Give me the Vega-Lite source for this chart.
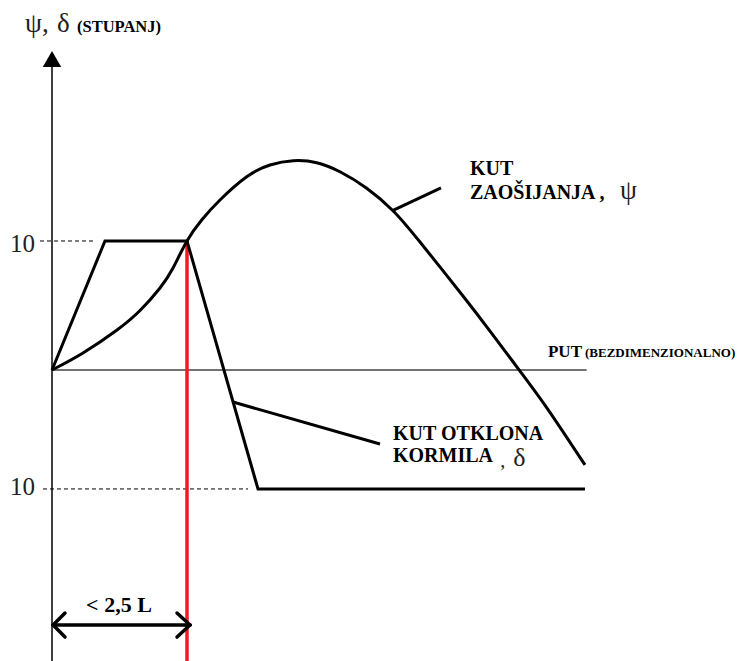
{
  "$schema": "https://vega.github.io/schema/vega-lite/v6.json",
  "width": 740,
  "height": 661,
  "padding": 0,
  "autosize": {"type": "none"},
  "background": "white",
  "config": {"view": {"stroke": null}, "axis": {"disable": true}},
  "datasets": {
    "yaxis": [{"x": 0, "y": -22.6, "x2": 0, "y2": 23.5}],
    "xaxis": [{"x": 0, "y": 0, "x2": 9.9, "y2": 0}],
    "dashed": [
      {"x": -0.222, "y": 10, "x2": 0.796, "y2": 10},
      {"x": -0.167, "y": -9.22, "x2": 3.63, "y2": -9.22}
    ],
    "red": [{"x": 2.5, "y": 10, "x2": 2.5, "y2": -22.6}],
    "delta": [
      {"x": 0, "y": 0},
      {"x": 0.981, "y": 10},
      {"x": 2.5, "y": 10},
      {"x": 3.815, "y": -9.22},
      {"x": 9.87, "y": -9.22}
    ],
    "psi": [
      {"x": 0, "y": 0},
      {"x": 0.574, "y": 1.32},
      {"x": 1.204, "y": 3.1},
      {"x": 1.63, "y": 4.61},
      {"x": 2.0, "y": 6.36},
      {"x": 2.241, "y": 7.91},
      {"x": 2.5, "y": 10},
      {"x": 2.772, "y": 11.63},
      {"x": 3.111, "y": 13.18},
      {"x": 3.606, "y": 14.98},
      {"x": 4.037, "y": 15.89},
      {"x": 4.469, "y": 16.22},
      {"x": 4.902, "y": 16.07},
      {"x": 5.333, "y": 15.37},
      {"x": 5.828, "y": 14.09},
      {"x": 6.32, "y": 12.33},
      {"x": 6.815, "y": 9.92},
      {"x": 7.611, "y": 5.74},
      {"x": 8.111, "y": 3.02},
      {"x": 8.611, "y": 0.23},
      {"x": 9.167, "y": -2.95},
      {"x": 9.87, "y": -7.36}
    ],
    "leaders": [
      {"x": 6.296, "y": 12.33, "x2": 7.204, "y2": 14.11},
      {"x": 3.352, "y": -2.48, "x2": 6.074, "y2": -5.74}
    ],
    "arrow": [
      {"x": 0.02, "y": -19.77, "x2": 2.556, "y2": -19.77},
      {"x": 0.02, "y": -19.77, "x2": 0.241, "y2": -18.84},
      {"x": 0.02, "y": -19.77, "x2": 0.241, "y2": -20.7},
      {"x": 2.556, "y": -19.77, "x2": 2.315, "y2": -18.84},
      {"x": 2.556, "y": -19.77, "x2": 2.315, "y2": -20.7}
    ],
    "tip": [{"x": 0, "y": 24.1}],
    "ticklabels": [
      {"x": -0.315, "y": 9.15, "t": "10"},
      {"x": -0.315, "y": -9.69, "t": "10"}
    ],
    "greek": [
      {"x": -0.5, "y": 26.2, "t": "ψ,"},
      {"x": 0.093, "y": 26.2, "t": "δ"},
      {"x": 10.52, "y": 13.26, "t": "ψ"}
    ],
    "greeksmall": [
      {"x": 8.54, "y": -7.45, "t": "δ"}
    ],
    "boldlabels": [
      {"x": 7.74, "y": 15.12, "t": "KUT"},
      {"x": 7.74, "y": 13.26, "t": "ZAOŠIJANJA ,"},
      {"x": 6.315, "y": -5.43, "t": "KUT OTKLONA"},
      {"x": 6.315, "y": -7.13, "t": "KORMILA"}
    ],
    "smallcomma": [{"x": 8.3, "y": -7.5, "t": ","}],
    "put": [{"x": 9.185, "y": 1.01, "t": "PUT"}],
    "smallbold": [
      {"x": 9.87, "y": 1.01, "t": "(BEZDIMENZIONALNO)"}
    ],
    "unit": [
      {"x": 0.463, "y": 26.2, "t": "(STUPANJ)"}
    ],
    "dist": [{"x": 1.24, "y": -18.76, "t": "< 2,5 L"}]
  },
  "encoding": {
    "x": {"field": "x", "type": "quantitative", "scale": {"domain": [-0.963, 12.741], "nice": false, "zero": false}, "axis": null},
    "y": {"field": "y", "type": "quantitative", "scale": {"domain": [-22.558, 28.682], "nice": false, "zero": false}, "axis": null}
  },
  "layer": [
    {"data": {"name": "yaxis"}, "mark": {"type": "rule", "stroke": "#000000", "strokeWidth": 1.5}, "encoding": {"x2": {"field": "x2"}, "y2": {"field": "y2"}}},
    {"data": {"name": "xaxis"}, "mark": {"type": "rule", "stroke": "#444444", "strokeWidth": 1.5}, "encoding": {"x2": {"field": "x2"}, "y2": {"field": "y2"}}},
    {"data": {"name": "dashed"}, "mark": {"type": "rule", "stroke": "#000000", "strokeWidth": 1, "strokeDash": [4, 3]}, "encoding": {"x2": {"field": "x2"}, "y2": {"field": "y2"}}},
    {"data": {"name": "red"}, "mark": {"type": "rule", "stroke": "#ed1c24", "strokeWidth": 3.5}, "encoding": {"x2": {"field": "x2"}, "y2": {"field": "y2"}}},
    {"data": {"name": "delta"}, "mark": {"type": "line", "stroke": "#000000", "strokeWidth": 3, "strokeJoin": "miter"}},
    {"data": {"name": "psi"}, "mark": {"type": "line", "stroke": "#000000", "strokeWidth": 3, "interpolate": "natural"}},
    {"data": {"name": "leaders"}, "mark": {"type": "rule", "stroke": "#000000", "strokeWidth": 3}, "encoding": {"x2": {"field": "x2"}, "y2": {"field": "y2"}}},
    {"data": {"name": "arrow"}, "mark": {"type": "rule", "stroke": "#000000", "strokeWidth": 3.5, "strokeCap": "round"}, "encoding": {"x2": {"field": "x2"}, "y2": {"field": "y2"}}},
    {"data": {"name": "tip"}, "mark": {"type": "point", "shape": "triangle-up", "filled": true, "fill": "#000000", "stroke": null, "size": 340, "opacity": 1}},
    {"data": {"name": "ticklabels"}, "mark": {"type": "text", "font": "Liberation Serif", "fontSize": 25, "align": "right", "baseline": "alphabetic", "fill": "#222222"}, "encoding": {"text": {"field": "t"}}},
    {"data": {"name": "greek"}, "mark": {"type": "text", "font": "Liberation Serif", "fontSize": 27, "align": "left", "baseline": "alphabetic", "fill": "#222222"}, "encoding": {"text": {"field": "t"}}},
    {"data": {"name": "greeksmall"}, "mark": {"type": "text", "font": "Liberation Serif", "fontSize": 26, "align": "left", "baseline": "alphabetic", "fill": "#222222"}, "encoding": {"text": {"field": "t"}}},
    {"data": {"name": "boldlabels"}, "mark": {"type": "text", "font": "Liberation Serif", "fontSize": 20, "fontWeight": "bold", "align": "left", "baseline": "alphabetic", "fill": "#000000"}, "encoding": {"text": {"field": "t"}}},
    {"data": {"name": "smallcomma"}, "mark": {"type": "text", "font": "Liberation Serif", "fontSize": 20, "align": "left", "baseline": "alphabetic", "fill": "#222222"}, "encoding": {"text": {"field": "t"}}},
    {"data": {"name": "put"}, "mark": {"type": "text", "font": "Liberation Serif", "fontSize": 17, "fontWeight": "bold", "align": "left", "baseline": "alphabetic", "fill": "#000000"}, "encoding": {"text": {"field": "t"}}},
    {"data": {"name": "smallbold"}, "mark": {"type": "text", "font": "Liberation Serif", "fontSize": 13, "fontWeight": "bold", "align": "left", "baseline": "alphabetic", "fill": "#000000"}, "encoding": {"text": {"field": "t"}}},
    {"data": {"name": "unit"}, "mark": {"type": "text", "font": "Liberation Serif", "fontSize": 16.5, "fontWeight": "bold", "align": "left", "baseline": "alphabetic", "fill": "#000000"}, "encoding": {"text": {"field": "t"}}},
    {"data": {"name": "dist"}, "mark": {"type": "text", "font": "Liberation Serif", "fontSize": 22, "fontWeight": "bold", "align": "center", "baseline": "alphabetic", "fill": "#000000"}, "encoding": {"text": {"field": "t"}}}
  ]
}
